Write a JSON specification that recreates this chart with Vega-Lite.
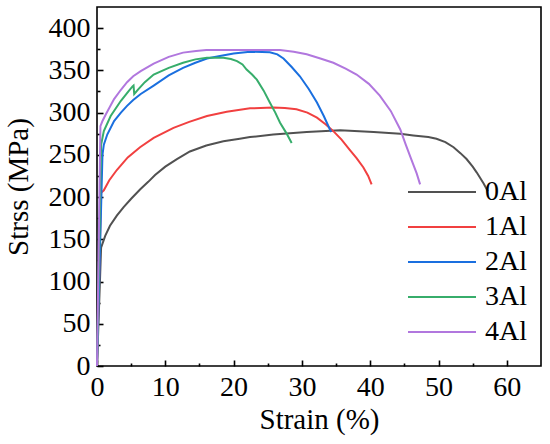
{
  "$schema": "https://vega.github.io/schema/vega-lite/v6.json",
  "width": 444,
  "height": 359,
  "autosize": {"type": "none"},
  "padding": {"left": 97, "top": 7, "right": 9, "bottom": 78},
  "background": "white",
  "config": {
    "view": {"stroke": "black", "strokeWidth": 1.6},
    "axis": {
      "grid": false,
      "domain": false,
      "tickColor": "black",
      "tickWidth": 1.6,
      "labelFlush": false,
      "labelOverlap": false,
      "labelFont": "Liberation Serif",
      "labelFontSize": 28,
      "labelColor": "black",
      "titleFont": "Liberation Serif",
      "titleFontSize": 29,
      "titleFontWeight": "normal",
      "titleColor": "black"
    }
  },
  "data": {
    "values": [
      {"alloy": "0Al", "strain": 0, "stress": 0},
      {"alloy": "0Al", "strain": 0.6, "stress": 140},
      {"alloy": "0Al", "strain": 1.2, "stress": 154},
      {"alloy": "0Al", "strain": 1.9, "stress": 166},
      {"alloy": "0Al", "strain": 2.9, "stress": 178},
      {"alloy": "0Al", "strain": 3.9, "stress": 188},
      {"alloy": "0Al", "strain": 5, "stress": 198},
      {"alloy": "0Al", "strain": 6.3, "stress": 209},
      {"alloy": "0Al", "strain": 7.5, "stress": 218},
      {"alloy": "0Al", "strain": 8.5, "stress": 226},
      {"alloy": "0Al", "strain": 10, "stress": 236},
      {"alloy": "0Al", "strain": 11.7, "stress": 245},
      {"alloy": "0Al", "strain": 13.6, "stress": 254},
      {"alloy": "0Al", "strain": 16, "stress": 261},
      {"alloy": "0Al", "strain": 18.5, "stress": 266},
      {"alloy": "0Al", "strain": 20.9, "stress": 269},
      {"alloy": "0Al", "strain": 22.4, "stress": 271},
      {"alloy": "0Al", "strain": 25.8, "stress": 274},
      {"alloy": "0Al", "strain": 30.7, "stress": 277},
      {"alloy": "0Al", "strain": 35.6, "stress": 279},
      {"alloy": "0Al", "strain": 40.5, "stress": 277},
      {"alloy": "0Al", "strain": 44.4, "stress": 275},
      {"alloy": "0Al", "strain": 46.3, "stress": 273},
      {"alloy": "0Al", "strain": 48.5, "stress": 271},
      {"alloy": "0Al", "strain": 49.7, "stress": 269},
      {"alloy": "0Al", "strain": 51, "stress": 265},
      {"alloy": "0Al", "strain": 52.2, "stress": 259},
      {"alloy": "0Al", "strain": 53.2, "stress": 252},
      {"alloy": "0Al", "strain": 54.1, "stress": 245},
      {"alloy": "0Al", "strain": 55, "stress": 236},
      {"alloy": "0Al", "strain": 55.6, "stress": 229},
      {"alloy": "0Al", "strain": 56.6, "stress": 216},
      {"alloy": "0Al", "strain": 57.2, "stress": 207},
      {"alloy": "1Al", "strain": 0, "stress": 0},
      {"alloy": "1Al", "strain": 0.6, "stress": 205},
      {"alloy": "1Al", "strain": 1, "stress": 208},
      {"alloy": "1Al", "strain": 1.8, "stress": 220},
      {"alloy": "1Al", "strain": 2.9, "stress": 232},
      {"alloy": "1Al", "strain": 4.5, "stress": 247},
      {"alloy": "1Al", "strain": 6.3, "stress": 259},
      {"alloy": "1Al", "strain": 8.3, "stress": 270},
      {"alloy": "1Al", "strain": 11.2, "stress": 282},
      {"alloy": "1Al", "strain": 13.5, "stress": 289},
      {"alloy": "1Al", "strain": 16.1, "stress": 296},
      {"alloy": "1Al", "strain": 19, "stress": 301},
      {"alloy": "1Al", "strain": 22.4, "stress": 305},
      {"alloy": "1Al", "strain": 25.8, "stress": 306},
      {"alloy": "1Al", "strain": 27.5, "stress": 305.5},
      {"alloy": "1Al", "strain": 29.2, "stress": 304},
      {"alloy": "1Al", "strain": 30.8, "stress": 300},
      {"alloy": "1Al", "strain": 32.2, "stress": 294},
      {"alloy": "1Al", "strain": 33.5, "stress": 286},
      {"alloy": "1Al", "strain": 34.6, "stress": 278},
      {"alloy": "1Al", "strain": 35.8, "stress": 268},
      {"alloy": "1Al", "strain": 37, "stress": 256},
      {"alloy": "1Al", "strain": 38, "stress": 246},
      {"alloy": "1Al", "strain": 39, "stress": 235},
      {"alloy": "1Al", "strain": 39.7, "stress": 225},
      {"alloy": "1Al", "strain": 40.2, "stress": 215},
      {"alloy": "2Al", "strain": 0, "stress": 0},
      {"alloy": "2Al", "strain": 0.8, "stress": 250},
      {"alloy": "2Al", "strain": 1, "stress": 262},
      {"alloy": "2Al", "strain": 1.5, "stress": 274},
      {"alloy": "2Al", "strain": 2.5, "stress": 290},
      {"alloy": "2Al", "strain": 3.5, "stress": 300},
      {"alloy": "2Al", "strain": 4.4, "stress": 308},
      {"alloy": "2Al", "strain": 5.3, "stress": 315},
      {"alloy": "2Al", "strain": 6.4, "stress": 322},
      {"alloy": "2Al", "strain": 8.3, "stress": 332},
      {"alloy": "2Al", "strain": 10.5, "stress": 344},
      {"alloy": "2Al", "strain": 12.6, "stress": 353},
      {"alloy": "2Al", "strain": 14.4, "stress": 359},
      {"alloy": "2Al", "strain": 16.1, "stress": 364},
      {"alloy": "2Al", "strain": 18, "stress": 367},
      {"alloy": "2Al", "strain": 20, "stress": 370},
      {"alloy": "2Al", "strain": 22.4, "stress": 372},
      {"alloy": "2Al", "strain": 25.3, "stress": 371.5},
      {"alloy": "2Al", "strain": 26.4, "stress": 369},
      {"alloy": "2Al", "strain": 27.3, "stress": 364},
      {"alloy": "2Al", "strain": 28.5, "stress": 354},
      {"alloy": "2Al", "strain": 29.7, "stress": 343},
      {"alloy": "2Al", "strain": 31, "stress": 328},
      {"alloy": "2Al", "strain": 32.2, "stress": 312},
      {"alloy": "2Al", "strain": 33.2, "stress": 296},
      {"alloy": "2Al", "strain": 34.1, "stress": 280},
      {"alloy": "2Al", "strain": 34.3, "stress": 277},
      {"alloy": "3Al", "strain": 0, "stress": 0},
      {"alloy": "3Al", "strain": 0.6, "stress": 262},
      {"alloy": "3Al", "strain": 1, "stress": 278},
      {"alloy": "3Al", "strain": 2, "stress": 296},
      {"alloy": "3Al", "strain": 3.5, "stress": 314},
      {"alloy": "3Al", "strain": 4.6, "stress": 325},
      {"alloy": "3Al", "strain": 5.2, "stress": 331},
      {"alloy": "3Al", "strain": 5.35, "stress": 332},
      {"alloy": "3Al", "strain": 5.45, "stress": 322},
      {"alloy": "3Al", "strain": 6.1, "stress": 328},
      {"alloy": "3Al", "strain": 7, "stress": 336},
      {"alloy": "3Al", "strain": 8.3, "stress": 345},
      {"alloy": "3Al", "strain": 10.5, "stress": 353},
      {"alloy": "3Al", "strain": 12.6, "stress": 359},
      {"alloy": "3Al", "strain": 14.4, "stress": 363},
      {"alloy": "3Al", "strain": 16.1, "stress": 365},
      {"alloy": "3Al", "strain": 18.5, "stress": 365},
      {"alloy": "3Al", "strain": 19.6, "stress": 363.5},
      {"alloy": "3Al", "strain": 20.5, "stress": 361},
      {"alloy": "3Al", "strain": 21.3, "stress": 357},
      {"alloy": "3Al", "strain": 21.9, "stress": 351},
      {"alloy": "3Al", "strain": 22.7, "stress": 345},
      {"alloy": "3Al", "strain": 23.4, "stress": 339},
      {"alloy": "3Al", "strain": 24.4, "stress": 326},
      {"alloy": "3Al", "strain": 25.3, "stress": 312},
      {"alloy": "3Al", "strain": 26.1, "stress": 300},
      {"alloy": "3Al", "strain": 26.8, "stress": 288},
      {"alloy": "3Al", "strain": 27.7, "stress": 276},
      {"alloy": "3Al", "strain": 28.5, "stress": 264},
      {"alloy": "4Al", "strain": 0, "stress": 0},
      {"alloy": "4Al", "strain": 0.5, "stress": 284},
      {"alloy": "4Al", "strain": 0.8, "stress": 290},
      {"alloy": "4Al", "strain": 1.3, "stress": 298},
      {"alloy": "4Al", "strain": 2.5, "stress": 316},
      {"alloy": "4Al", "strain": 3.5, "stress": 327},
      {"alloy": "4Al", "strain": 4.4, "stress": 336},
      {"alloy": "4Al", "strain": 5.3, "stress": 343},
      {"alloy": "4Al", "strain": 6.4, "stress": 349},
      {"alloy": "4Al", "strain": 8.3, "stress": 358},
      {"alloy": "4Al", "strain": 10.5, "stress": 366},
      {"alloy": "4Al", "strain": 12.6, "stress": 371},
      {"alloy": "4Al", "strain": 14.5, "stress": 373},
      {"alloy": "4Al", "strain": 16, "stress": 374},
      {"alloy": "4Al", "strain": 20, "stress": 374},
      {"alloy": "4Al", "strain": 22.4, "stress": 374},
      {"alloy": "4Al", "strain": 26.8, "stress": 374},
      {"alloy": "4Al", "strain": 28.8, "stress": 372},
      {"alloy": "4Al", "strain": 30.7, "stress": 369},
      {"alloy": "4Al", "strain": 32.7, "stress": 364},
      {"alloy": "4Al", "strain": 34.6, "stress": 359},
      {"alloy": "4Al", "strain": 36.4, "stress": 352},
      {"alloy": "4Al", "strain": 38, "stress": 345},
      {"alloy": "4Al", "strain": 39.8, "stress": 334},
      {"alloy": "4Al", "strain": 41.4, "stress": 320},
      {"alloy": "4Al", "strain": 43, "stress": 302},
      {"alloy": "4Al", "strain": 44.4, "stress": 280},
      {"alloy": "4Al", "strain": 45.2, "stress": 262},
      {"alloy": "4Al", "strain": 46, "stress": 245},
      {"alloy": "4Al", "strain": 46.8, "stress": 228},
      {"alloy": "4Al", "strain": 47.3, "stress": 215}
    ]
  },
  "layer": [
    {
      "mark": {"type": "line", "strokeWidth": 2},
      "encoding": {
        "x": {
          "field": "strain",
          "type": "quantitative",
          "scale": {"domain": [0, 65], "nice": false, "zero": false},
          "axis": {
            "orient": "bottom",
            "title": "Strain (%)",
            "values": [0, 10, 20, 30, 40, 50, 60],
            "offset": -6,
            "tickSize": 6,
            "labelPadding": 7,
            "titlePadding": 4
          }
        },
        "y": {
          "field": "stress",
          "type": "quantitative",
          "scale": {"domain": [0, 425], "nice": false},
          "axis": {
            "orient": "left",
            "title": "Strss (MPa)",
            "values": [0, 50, 100, 150, 200, 250, 300, 350, 400],
            "offset": -6,
            "tickSize": 6,
            "labelPadding": 7,
            "titlePadding": 15
          }
        },
        "color": {
          "field": "alloy",
          "type": "nominal",
          "scale": {
            "domain": ["0Al", "1Al", "2Al", "3Al", "4Al"],
            "range": ["#515151", "#F14040", "#1A6FDF", "#37AD6B", "#B177DE"]
          },
          "legend": {
            "title": null,
            "orient": "none",
            "legendX": 327,
            "legendY": 167,
            "padding": 0,
            "symbolType": "M-2,0H2",
            "symbolSize": 1156,
            "symbolStrokeWidth": 2,
            "labelFont": "Liberation Serif",
            "labelFontSize": 28,
            "labelColor": "black",
            "labelOffset": 25,
            "rowPadding": 3
          }
        }
      }
    },
    {
      "mark": {"type": "line", "strokeWidth": 2, "opacity": 0},
      "encoding": {
        "x": {
          "field": "strain",
          "type": "quantitative",
          "axis": {
            "orient": "bottom",
            "title": null,
            "labels": false,
            "values": [5, 15, 25, 35, 45, 55],
            "offset": -3,
            "tickSize": 3
          }
        },
        "y": {
          "field": "stress",
          "type": "quantitative",
          "axis": {
            "orient": "left",
            "title": null,
            "labels": false,
            "values": [25, 75, 125, 175, 225, 275, 325, 375],
            "offset": -3,
            "tickSize": 3
          }
        },
        "detail": {"field": "alloy"}
      }
    }
  ],
  "resolve": {"axis": {"x": "independent", "y": "independent"}}
}
